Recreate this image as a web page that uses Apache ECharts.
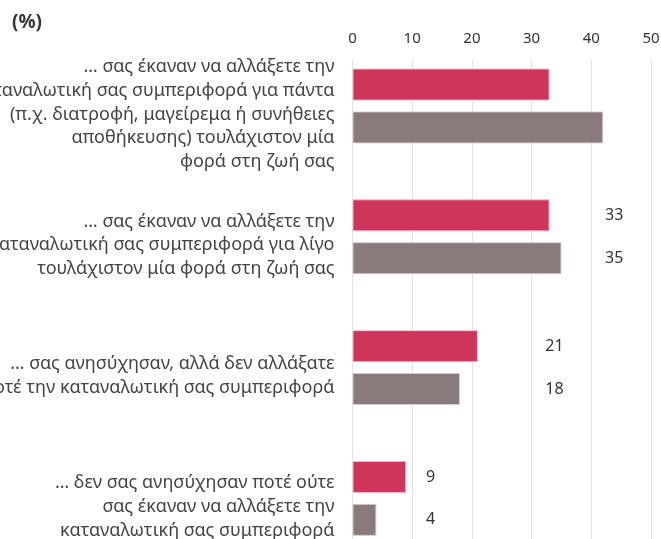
<!DOCTYPE html>
<html>
<head>
<meta charset="utf-8">
<script src="https://cdn.jsdelivr.net/npm/echarts@6/dist/echarts.min.js"></script>
<style>
  html, body { margin: 0; padding: 0; background: #fff; }
  #chart { width: 661px; height: 539px; }
</style>
</head>
<body>
<div id="chart"></div>
<script>
// categories (top to bottom)
var categories = [
  "… σας έκαναν να αλλάξετε την\nκαταναλωτική σας συμπεριφορά για πάντα\n(π.χ. διατροφή, μαγείρεμα ή συνήθειες\nαποθήκευσης) τουλάχιστον μία\nφορά στη ζωή σας",
  "… σας έκαναν να αλλάξετε την\nκαταναλωτική σας συμπεριφορά για λίγο\nτουλάχιστον μία φορά στη ζωή σας",
  "… σας ανησύχησαν, αλλά δεν αλλάξατε\nποτέ την καταναλωτική σας συμπεριφορά",
  "… δεν σας ανησύχησαν ποτέ ούτε\nσας έκαναν να αλλάξετε την\nκαταναλωτική σας συμπεριφορά"
];
var redValues = [33, 33, 21, 9];
var greyValues = [42, 35, 18, 4];
var showLabel = [false, true, true, true];
var xTicks = [0, 10, 20, 30, 40, 50];

// layout
var gridLeft = 352.5, gridRight = 10;
var barsTop = 40.6, bandsHeight = 523.2;
var pxPerUnit = (661 - gridLeft - gridRight) / 50;
var labelCol = [0, 42.3, 32.3, 12.3]; // where the number column sits, in axis units

function makeData(vals) {
  return vals.map(function(v, i) {
    return {
      value: v,
      label: {
        show: showLabel[i],
        position: "insideLeft",
        distance: 0,
        offset: [labelCol[i] * pxPerUnit, 0]
      }
    };
  });
}

var chart = echarts.init(document.getElementById("chart"));
var font = "'Noto Sans', sans-serif";

var option = {
  animation: false,
  title: {
    text: "(%)",
    left: 7,
    top: 8,
    textStyle: { fontFamily: font, fontSize: 19, fontWeight: "bold", color: "#333" }
  },
  grid: [
    { left: gridLeft, right: gridRight, top: barsTop, height: bandsHeight, outerBoundsMode: "none" },
    { left: gridLeft, right: gridRight, top: 60, height: 600, outerBoundsMode: "none" },
    // category texts sit a little lower than the bar pairs
    { left: gridLeft, right: gridRight, top: barsTop + 8.5, height: bandsHeight, outerBoundsMode: "none" }
  ],
  xAxis: [
    { gridIndex: 0, type: "value", min: 0, max: 50, show: false },
    {
      gridIndex: 1,
      type: "value",
      position: "top",
      min: 0,
      max: 50,
      interval: 10,
      axisLine: { show: true, lineStyle: { color: "#e0e0e0", width: 1 } },
      axisTick: { show: true, length: 6, lineStyle: { color: "#e0e0e0" } },
      axisLabel: {
        margin: 14,
        color: "#333",
        fontFamily: font,
        fontSize: 15,
        formatter: function(v) { return xTicks.indexOf(v) >= 0 ? String(v) : ""; }
      },
      splitLine: { show: true, lineStyle: { color: "#e3e3e3", width: 1 } }
    },
    { gridIndex: 2, type: "value", min: 0, max: 50, show: false }
  ],
  yAxis: [
    {
      gridIndex: 0,
      type: "category",
      inverse: true,
      data: categories,
      axisLine: { show: false },
      axisTick: { show: false },
      axisLabel: { show: false }
    },
    { gridIndex: 1, type: "value", show: false, min: 0, max: 1 },
    {
      gridIndex: 2,
      type: "category",
      inverse: true,
      data: categories,
      axisLine: { show: false },
      axisTick: { show: false },
      splitLine: { show: false },
      axisLabel: {
        margin: 18,
        color: "#444",
        fontFamily: font,
        fontSize: 18,
        lineHeight: 23.8,
        align: "right"
      }
    }
  ],
  series: [
    {
      type: "bar",
      xAxisIndex: 0,
      yAxisIndex: 0,
      data: makeData(redValues),
      barWidth: 32,
      barGap: "34%",
      itemStyle: { color: "#cf355a", borderColor: "rgba(240,190,205,0.9)", borderWidth: 1 },
      label: { color: "#333", fontFamily: font, fontSize: 16 }
    },
    {
      type: "bar",
      xAxisIndex: 0,
      yAxisIndex: 0,
      data: makeData(greyValues),
      barWidth: 32,
      barGap: "34%",
      itemStyle: { color: "#897a7c", borderColor: "rgba(215,205,208,0.9)", borderWidth: 1 },
      label: { color: "#333", fontFamily: font, fontSize: 16 }
    }
  ]
};

chart.setOption(option);
</script>
</body>
</html>
